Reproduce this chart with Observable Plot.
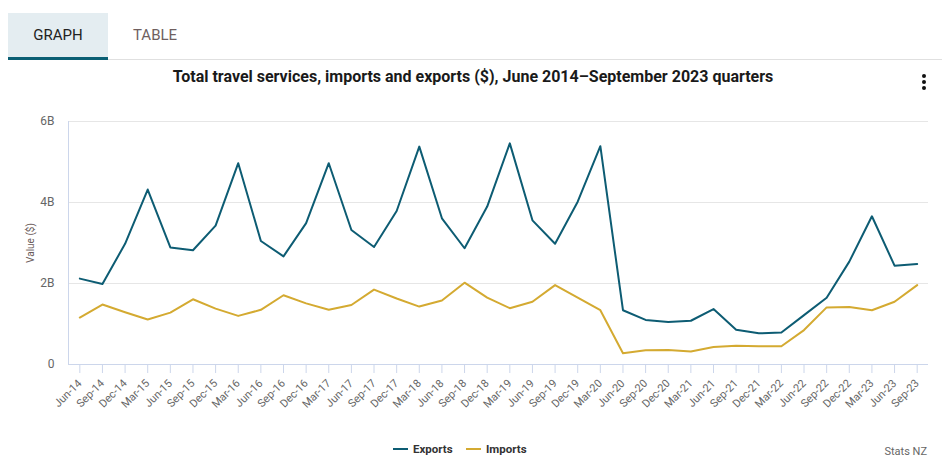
<!DOCTYPE html>
<html>
<head>
<meta charset="utf-8">
<script src="https://cdn.jsdelivr.net/npm/d3@7"></script>
<script src="https://cdn.jsdelivr.net/npm/@observablehq/plot@0.6"></script>
<style>
  html, body { margin:0; padding:0; background:#fff; width:942px; height:470px; overflow:hidden; font-family: Roboto, "Open Sans", sans-serif; }
  .abs { position:absolute; }
  #tab1 { left:8px; top:13px; width:100px; height:44px; background:#e4edf1; border-bottom:3px solid #0b5f74; }
  #tab1 span, #tab2 { font-size:15px; color:#222; }
  #tab1 span { position:absolute; left:0; right:0; top:13px; text-align:center; }
  #tab2 { left:133px; top:26px; color:#6f5f5f; }
  #tabline { left:108px; top:59px; width:834px; height:1px; background:#e0e0e0; }
  #title { left:0; width:946px; top:67px; text-align:center; font-size:16px; font-weight:bold; color:#1a1a1a; }
  #kebab { left:922px; top:74px; width:6px; }
  #kebab div { width:4px; height:4px; border-radius:2px; background:#111; margin-bottom:2px; }
  #ylab { left:30px; top:243px; transform: translate(-50%,-50%) rotate(-90deg); font-size:10px; color:#6a5a5a; white-space:nowrap; }
  #chart { left:0; top:100px; }
  .item { position:absolute; top:442px; display:flex; align-items:center; gap:5px; font-size:11.5px; font-weight:bold; color:#333; }
  .sw { width:15px; height:2.5px; }
  #credit { right:15px; top:445px; font-size:11px; color:#666; }
</style>
</head>
<body>
<div id="tab1" class="abs"><span>GRAPH</span></div>
<div id="tab2" class="abs">TABLE</div>
<div id="tabline" class="abs"></div>
<div id="title" class="abs">Total travel services, imports and exports ($), June 2014–September 2023 quarters</div>
<div id="kebab" class="abs"><div></div><div></div><div></div></div>
<div id="ylab" class="abs">Value ($)</div>
<div id="chart" class="abs"></div>
<div class="item" style="left:393px"><div class="sw" style="background:#0d5c73"></div>Exports</div>
<div class="item" style="left:466px"><div class="sw" style="background:#d4aa31"></div>Imports</div>
<div id="credit" class="abs">Stats NZ</div>
<script>
const quarters = ["Jun-14","Sep-14","Dec-14","Mar-15","Jun-15","Sep-15","Dec-15","Mar-16","Jun-16","Sep-16","Dec-16","Mar-17","Jun-17","Sep-17","Dec-17","Mar-18","Jun-18","Sep-18","Dec-18","Mar-19","Jun-19","Sep-19","Dec-19","Mar-20","Jun-20","Sep-20","Dec-20","Mar-21","Jun-21","Sep-21","Dec-21","Mar-22","Jun-22","Sep-22","Dec-22","Mar-23","Jun-23","Sep-23"];
// values in billions of NZ dollars
const exportsB = [2.12,1.99,2.98,4.32,2.89,2.82,3.43,4.97,3.05,2.67,3.49,4.97,3.32,2.90,3.79,5.38,3.61,2.87,3.90,5.46,3.56,2.98,4.02,5.39,1.34,1.10,1.05,1.08,1.37,0.86,0.77,0.79,1.22,1.65,2.54,3.66,2.44,2.48];
const importsB = [1.16,1.48,1.29,1.11,1.28,1.61,1.38,1.20,1.35,1.71,1.51,1.35,1.47,1.85,1.63,1.43,1.58,2.02,1.65,1.39,1.55,1.96,1.65,1.34,0.28,0.35,0.36,0.32,0.43,0.46,0.45,0.45,0.85,1.41,1.42,1.34,1.55,1.96];
const yTicks = [0, 2e9, 4e9, 6e9];
const yTickLabels = ["0", "2B", "4B", "6B"];

const rows = [];
quarters.forEach((q, i) => {
  rows.push({idx: i, quarter: q, series: "Exports", value: exportsB[i] * 1e9});
  rows.push({idx: i, quarter: q, series: "Imports", value: importsB[i] * 1e9});
});
const idxs = quarters.map((q, i) => i);

const chart = Plot.plot({
  width: 942,
  height: 330,
  marginTop: 21,
  marginBottom: 66,
  marginLeft: 68,
  marginRight: 14,
  style: {fontFamily: "Roboto, sans-serif", background: "transparent"},
  x: {type: "linear", domain: [-0.5, quarters.length - 0.5], label: null},
  y: {domain: [0, 6e9], label: null},
  color: {domain: ["Exports", "Imports"], range: ["#0d5c73", "#d4aa31"]},
  marks: [
    Plot.gridY(yTicks.slice(1), {stroke: "#e6e6e6", strokeOpacity: 1}),
    Plot.ruleY([0], {stroke: "#ccd6eb"}),
    Plot.ruleX([-0.5], {stroke: "#ccd6eb", y1: 0, y2: 6e9}),
    Plot.axisY(yTicks, {tickSize: 0, tickPadding: 14, fontSize: 12, fill: "#666",
      tickFormat: d => yTickLabels[yTicks.indexOf(d)]}),
    Plot.axisX(idxs, {tickSize: 9, stroke: "#ccd6eb", fill: "#666", tickRotate: -45, fontSize: 11, tickPadding: 8, label: null,
      tickFormat: i => quarters[i]}),
    Plot.line(rows, {x: "idx", y: "value", z: "series", stroke: "series", strokeWidth: 2, curve: "linear"})
  ]
});
document.getElementById("chart").appendChild(chart);
</script>
</body>
</html>
